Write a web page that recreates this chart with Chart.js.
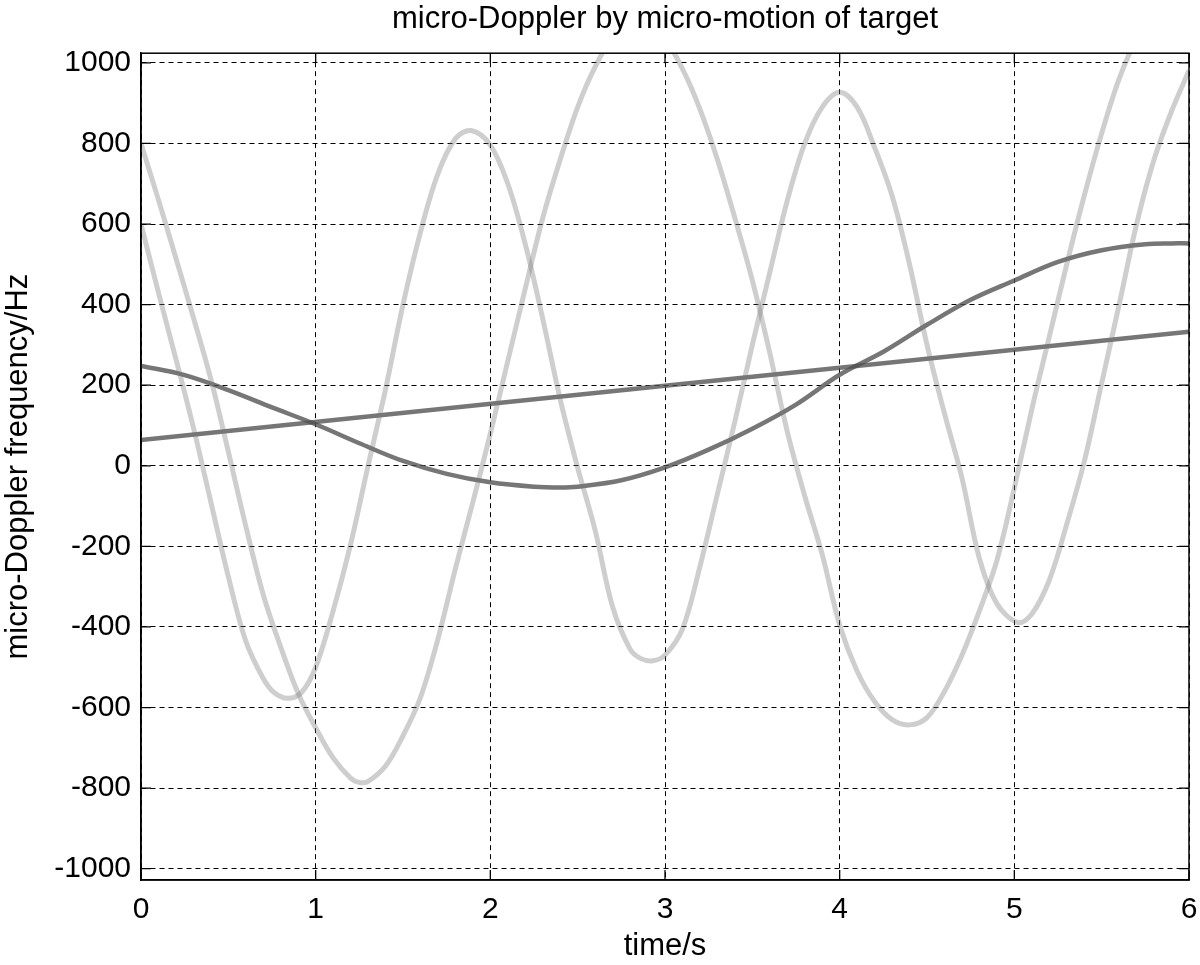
<!DOCTYPE html>
<html><head><meta charset="utf-8">
<script src="https://cdn.jsdelivr.net/npm/chart.js@4.4.0/dist/chart.umd.min.js"></script>
<style>html,body{margin:0;padding:0;background:#fff;overflow:hidden}</style>
</head><body>
<canvas id="c" width="1200" height="965" style="display:block;width:1200px;height:965px"></canvas>
<script>
// ---- data ----
const xTicks = [0, 1, 2, 3, 4, 5, 6];
const yTicks = [-1000, -800, -600, -400, -200, 0, 200, 400, 600, 800, 1000];

const lineT = [0, 6];
const lineV = [64, 333];

const slowT = [0,0.25,0.5,0.75,1.0,1.25,1.5,1.75,2.0,2.25,2.4,2.5,2.75,3.0,3.25,3.5,3.75,4.0,4.25,4.5,4.75,5.0,5.25,5.5,5.75,5.9,6.0];
const slowV = [248,225,188,145,103,56,12,-20,-41,-52,-54,-52,-36,-4,40,92,152,226,283,350,412,460,506,535,550,552,552];

const fastAT = [0,0.1,0.2,0.3,0.4,0.5,0.6,0.7,0.76,0.84,0.92,1.0,1.1,1.2,1.3,1.4,1.5,1.6,1.7,1.8,1.89,2.0,2.1,2.2,2.3,2.4,2.5,2.6,2.7,2.8,2.86,2.93,3.0,3.1,3.2,3.3,3.4,3.5,3.6,3.7,3.8,3.9,4.0,4.1,4.2,4.3,4.4,4.5,4.6,4.7,4.8,4.9,5.02,5.1,5.2,5.3,5.4,5.5,5.6,5.7,5.8,5.9,6.0];
const fastAV = [600,430,265,95,-90,-275,-435,-528,-562,-577,-562,-500,-360,-195,0,190,400,580,725,812,832,796,700,550,365,165,-5,-160,-350,-455,-478,-484,-470,-405,-250,-70,110,300,480,658,800,890,927,890,790,670,500,300,130,-30,-230,-342,-389,-368,-284,-145,10,205,400,600,760,880,981];

const fastBT = [0,0.1,0.2,0.3,0.4,0.5,0.6,0.7,0.8,0.9,1.0,1.1,1.2,1.25,1.3,1.4,1.5,1.6,1.7,1.8,1.9,2.0,2.1,2.2,2.3,2.4,2.5,2.6,2.7,2.85,3.0,3.1,3.2,3.3,3.4,3.5,3.6,3.7,3.8,3.9,4.0,4.1,4.2,4.3,4.4,4.5,4.6,4.7,4.8,4.9,5.0,5.1,5.2,5.3,5.4,5.5,5.6,5.7,5.8,5.9,6.0];
const fastBV = [800,660,515,368,215,35,-150,-320,-450,-565,-650,-725,-775,-786,-783,-745,-670,-575,-430,-255,-90,80,260,440,615,760,890,990,1060,1095,1055,985,885,760,615,460,280,85,-75,-220,-395,-510,-585,-630,-643,-625,-560,-470,-360,-235,-55,140,320,500,670,825,960,1060,1120,1150,1160];

const pts = (ts, vs) => ts.map((t, i) => ({x: t, y: vs[i]}));
const FONT = "'Liberation Sans', Arial, Helvetica, sans-serif";

const framePlugin = {
  id: 'frame',
  afterDraw(chart) {
    const {ctx, chartArea: a, scales: {x, y}} = chart;
    ctx.save();
    ctx.strokeStyle = '#000';
    ctx.lineWidth = 1.5;
    ctx.strokeRect(a.left, a.top, a.right - a.left, a.bottom - a.top);
    ctx.lineWidth = 1.3;
    ctx.beginPath();
    const L = 10;
    xTicks.forEach(v => {
      const p = x.getPixelForValue(v);
      ctx.moveTo(p, a.bottom); ctx.lineTo(p, a.bottom - L);
      ctx.moveTo(p, a.top); ctx.lineTo(p, a.top + L);
    });
    yTicks.forEach(v => {
      const p = y.getPixelForValue(v);
      ctx.moveTo(a.left, p); ctx.lineTo(a.left + L, p);
      ctx.moveTo(a.right, p); ctx.lineTo(a.right - L, p);
    });
    ctx.stroke();
    ctx.restore();
  }
};

const lightStyle = {borderColor: 'rgba(120,120,120,0.36)', borderWidth: 5};
const darkStyle = {borderColor: 'rgba(80,80,80,0.78)', borderWidth: 4.5};

new Chart(document.getElementById('c'), {
  type: 'line',
  data: {
    datasets: [
      Object.assign({label: 'A', data: pts(fastAT, fastAV)}, lightStyle),
      Object.assign({label: 'B', data: pts(fastBT, fastBV)}, lightStyle),
      Object.assign({label: 'S', data: pts(slowT, slowV)}, darkStyle),
      Object.assign({label: 'L', data: pts(lineT, lineV)}, darkStyle)
    ].map(d => Object.assign(d, {pointRadius: 0, fill: false, tension: 0.35, clip: 0}))
  },
  options: {
    responsive: false,
    animation: false,
    devicePixelRatio: 1,
    layout: {padding: {left: 0, right: 11, top: 0, bottom: 0}},
    plugins: {
      legend: {display: false},
      tooltip: {enabled: false},
      title: {
        display: true,
        fullSize: false,
        text: 'micro-Doppler by micro-motion of target',
        color: '#000',
        font: {family: FONT, size: 31, weight: 'normal', lineHeight: 1.2},
        padding: {top: 1, bottom: 15}
      }
    },
    scales: {
      x: {
        type: 'linear', min: 0, max: 6,
        afterBuildTicks: s => { s.ticks = xTicks.map(v => ({value: v})); },
        afterFit: s => { s.height = 85; s.paddingLeft = 0; s.paddingRight = 0; },
        grid: {color: '#000', lineWidth: 1, drawTicks: false},
        border: {display: true, color: '#000', width: 1.5, dash: [5, 4]},
        ticks: {color: '#000', padding: 12, maxRotation: 0, callback: v => String(v),
                font: {family: FONT, size: 30}},
        title: {display: true, text: 'time/s', color: '#000', padding: {top: 0, bottom: 0},
                font: {family: FONT, size: 31, lineHeight: 1.2}}
      },
      y: {
        type: 'linear', min: -1028, max: 1024,
        afterBuildTicks: s => { s.ticks = yTicks.map(v => ({value: v})); },
        afterFit: s => { s.width = 141; s.paddingTop = 0; s.paddingBottom = 0; },
        grid: {color: '#000', lineWidth: 1, drawTicks: false},
        border: {display: true, color: '#000', width: 1.5, dash: [5, 4]},
        ticks: {color: '#000', padding: 10, callback: v => String(v), font: {family: FONT, size: 30}},
        title: {display: true, text: 'micro-Doppler frequency/Hz', color: '#000', padding: {top: 0, bottom: 0},
                font: {family: FONT, size: 31, lineHeight: 1.2}}
      }
    }
  },
  plugins: [framePlugin]
});
</script>
</body></html>
